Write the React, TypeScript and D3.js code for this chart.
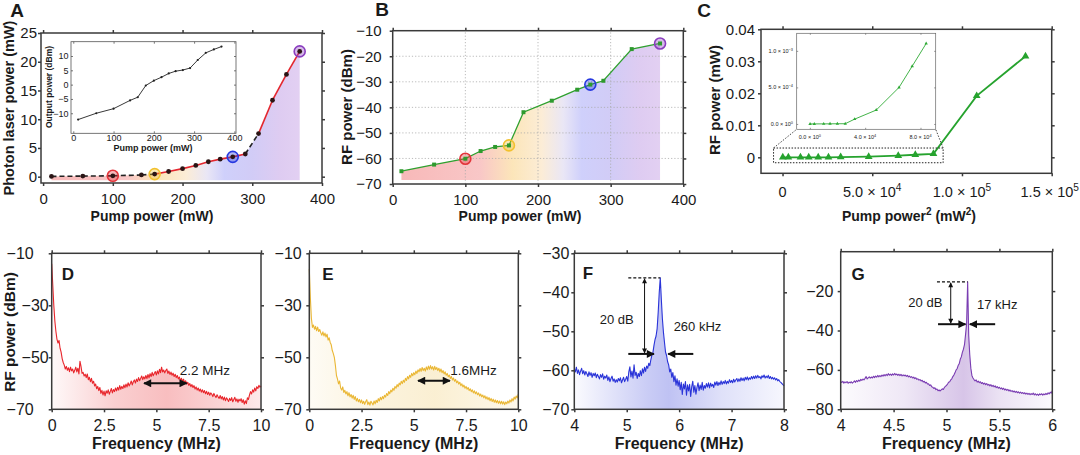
import { useEffect, useRef } from 'react';
import * as d3 from 'd3';

const FONT = "'Liberation Sans', Arial, Helvetica, sans-serif";

// A: photon laser power and output power vs pump power
const pumpA = [12, 57, 100, 141, 160, 180, 200, 219, 237, 254, 272, 290, 309, 329, 349, 368];
const photonPowerA = [0.05, 0.1, 0.15, 0.3, 0.45, 0.9, 1.4, 1.95, 2.6, 3.05, 3.45, 3.95, 7.5, 13.3, 17.8, 21.8];
const outputPowerA = [-12.2, -10.0, -8.4, -5.5, -4.4, -0.3, 1.4, 2.6, 3.9, 4.7, 5.1, 5.8, 8.6, 11.1, 12.3, 13.3];
const dashedSegA = [0, 1, 2, 3, 11];
const stagesA = [2, 4, 10, 15];
const ticksAx = [0, 100, 200, 300, 400];
const ticksAy = [0, 5, 10, 15, 20, 25];
const ticksInsetAy = [-10, -5, 0, 5, 10];

// B: RF power vs pump power
const pumpB = [12, 57, 100, 121, 141, 160, 180, 219, 254, 272, 290, 329, 368];
const rfB = [-65.0, -62.4, -60.1, -57.1, -55.5, -54.9, -41.9, -37.4, -33.1, -31.1, -29.6, -17.2, -15.0];
const stagesB = [2, 5, 9, 12];
const ticksBy = [-70, -60, -50, -40, -30, -20, -10];

// C: RF power (mW) vs pump power squared
const pumpSqC = [150, 3250, 10000, 14600, 19900, 25600, 32400, 48000, 64500, 74000, 84100, 108200, 135400];
const rfC = [0.0000003, 0.0000006, 0.000001, 0.0000019, 0.0000028, 0.0000035, 0.000066, 0.00019, 0.0005, 0.00079, 0.0011, 0.0192, 0.0316];
const insetCountC = 11;
const ticksCx = [0, 50000, 100000, 150000];
const ticksCxLabels = [['0', ''], ['5.0 × 10', '4'], ['1.0 × 10', '5'], ['1.5 × 10', '5']];
const ticksCy = [0, 0.01, 0.02, 0.03, 0.04];
const ticksInsetCx = [0, 40000, 80000];
const ticksInsetCxLabels = [['0.0 × 10', '0'], ['4.0 × 10', '4'], ['8.0 × 10', '4']];
const ticksInsetCy = [0, 0.0005, 0.001];
const ticksInsetCyLabels = [['0.0 × 10', '0'], ['5.0 × 10', '−4'], ['1.0 × 10', '−3']];

const stageColors = ['#e3343a', '#f2c12e', '#2638e0', '#8a3dbf'];

// D-G: RF spectra (uniform frequency bins)
const dStart = 0, dStep = 0.05;
const dPower = [
  -14, -22, -30, -36, -40, -43, -44.5, -43.5, -46.5, -48,
  -50.5, -52, -53, -54.5, -53.5, -55, -54, -55.5, -53.8, -55.2,
  -54.5, -56, -55, -53.8, -55.6, -54.2, -56.4, -51.5, -53.5, -56.2,
  -55.8, -57.2, -56.5, -57.8, -56.4, -58.6, -57.7, -59.4, -58.1, -60,
  -59.2, -61, -60.3, -62.1, -61.2, -62.8, -61.6, -63.9, -62.7, -64.5,
  -63, -64.8, -62.9, -63.8, -62.5, -64.2, -63.1, -62, -63.7, -62.4,
  -63.2, -61.8, -62.9, -61.5, -62.6, -60.9, -62.3, -61.2, -62, -60.6,
  -61.7, -60.3, -61.4, -59.8, -61, -60.2, -59.1, -60.6, -59.4, -58.7,
  -59.9, -58.4, -59.3, -57.8, -59, -58.1, -57.2, -58.6, -57.5, -58.3,
  -57, -58.2, -56.6, -57.9, -56.3, -57.4, -55.8, -57.1, -56.2, -55.5,
  -56.8, -55.2, -56.4, -54.6, -55.9, -53.8, -55.6, -54.9, -56, -55.1,
  -54.5, -56.2, -55.3, -56.6, -55.7, -56.9, -56.1, -57.4, -56.5, -57.8,
  -57, -58.3, -57.6, -58.9, -58.1, -59.2, -58.4, -59.8, -59, -60.3,
  -59.6, -60.8, -60.1, -61.3, -60.5, -61.6, -60.9, -62.2, -61.4, -62.6,
  -61.8, -63, -62.2, -63.4, -62.5, -63.6, -62.8, -64, -63.1, -64.3,
  -63.4, -64.6, -63.7, -64.2, -65.1, -63.9, -64.8, -65.5, -64.4, -65.2,
  -65.8, -64.7, -66, -65.1, -66.4, -65.3, -66.7, -65.6, -66.2, -67,
  -65.8, -66.6, -65.5, -67.1, -66.2, -65.4, -66.9, -66, -67.3, -66.1,
  -66.8, -65.9, -67.4, -66.3, -68, -66.7, -67.8, -65.6, -66.2, -64.5,
  -63.2, -64.1, -62.5, -63.4, -61.8, -62.9, -61.3, -62, -60.8, -61.5,
  -61,
];
const eStart = 0, eStep = 0.05;
const ePower = [
  -16, -27, -35, -38.5, -37.6, -39.2, -38.1, -39.8, -38.4, -40.1,
  -39.3, -40.6, -41.5, -40.2, -41.8, -40.7, -42.2, -41.1, -43.4, -42.5,
  -44.3, -45.2, -47.4, -48.6, -50.1, -53.2, -57, -58.4, -60.2, -59.1,
  -61.8, -62.6, -61.4, -63.5, -62.7, -64.1, -63.2, -64.8, -63.6, -65.2,
  -64.3, -65.7, -64.6, -66.2, -65.1, -66.8, -65.8, -67.1, -66.2, -67.5,
  -66.4, -67.8, -66.9, -68.1, -67, -66.3, -68.2, -67.2, -68.4, -66.9,
  -67.6, -68.3, -66.8, -67.9, -66.5, -67.4, -65.9, -66.8, -65.4, -66.3,
  -65.1, -65.9, -64.6, -65.3, -63.9, -64.7, -63.2, -64, -62.6, -63.3,
  -61.9, -62.7, -61.2, -61.9, -60.5, -61.3, -59.9, -60.6, -59.2, -60.1,
  -58.8, -59.6, -58.1, -58.9, -57.4, -58.3, -56.9, -57.7, -56.2, -57.1,
  -55.9, -56.7, -55.3, -56.2, -54.8, -55.6, -54.3, -55.4, -53.9, -55.1,
  -54.2, -55.3, -53.7, -54.8, -53.4, -54.6, -53.2, -54.5, -53.6, -54.9,
  -53.5, -54.7, -53.9, -55.1, -54.2, -55.6, -54.5, -55.9, -55.1, -56.4,
  -55.6, -56.9, -56.2, -57.5, -56.8, -58.1, -57.4, -58.7, -58, -59.2,
  -58.5, -59.8, -59.1, -60.3, -59.6, -60.9, -60.2, -61.4, -60.7, -61.9,
  -61.2, -62.3, -61.6, -62.8, -62.1, -63.2, -62.5, -63.7, -62.9, -64,
  -63.3, -64.4, -63.7, -64.9, -64.1, -65.2, -64.5, -65.6, -64.8, -66,
  -65.2, -66.3, -65.5, -66.7, -65.8, -67, -66.1, -67.3, -66.4, -67.5,
  -66.6, -67.7, -66.8, -67.9, -66.9, -68, -67.1, -68.2, -67.2, -67.9,
  -66.8, -67.6, -66.4, -67.2, -65.9, -66.8, -65.3, -66.1, -64.9, -65.6,
  -64.2,
];
const fStart = 4, fStep = 0.02;
const fPower = [
  -59.6, -60.4, -59.2, -60.8, -59.9, -61.1, -60.2, -59.5, -60.9, -60.1,
  -61.2, -60.3, -60.9, -61.6, -60.4, -61.3, -60.6, -61.8, -60.8, -61.4,
  -60.7, -61.9, -61, -61.6, -62.2, -61.1, -61.8, -60.9, -62.3, -61.5,
  -62, -61.2, -62.6, -61.7, -62.9, -62.1, -61.5, -62.8, -62.2, -63.1,
  -62.4, -63, -62.1, -62.7, -61.9, -63.2, -62.5, -61.8, -62.9, -62.3,
  -61.6, -62.8, -60.4, -59.1, -61.7, -60.2, -62, -58.6, -61.3, -60.5,
  -62.1, -60.8, -61.6, -60.1, -61.4, -59.6, -60.7, -59.2, -60.3, -58.9,
  -59.5, -58.2, -58.8, -57.3, -56.1, -55.4, -53.6, -52.1, -51.2, -49.3,
  -45.2, -40.1, -36.3, -41.8, -46.7, -50.2, -52.8, -55.3, -56.2, -57.8,
  -58.6, -60.4, -59.7, -61.8, -60.6, -62.9, -61.4, -63.8, -62.2, -64.1,
  -62.6, -65, -63.1, -66.2, -63.5, -64.8, -62.9, -66.4, -63.7, -65.3,
  -63.6, -66.7, -64.2, -62.8, -65.6, -63.9, -66.1, -64.4, -63.2, -65.2,
  -63.8, -64.9, -63.1, -65.1, -63.9, -64.6, -63.4, -64.3, -63.2, -64.5,
  -63.3, -64.1, -63.6, -64.4, -63, -63.8, -62.9, -63.9, -63.1, -63.7,
  -62.7, -63.6, -62.9, -63.4, -62.6, -63.5, -62.8, -63.3, -62.4, -63.1,
  -62.6, -63.2, -62.3, -63, -62.5, -62.1, -62.9, -62.2, -62.8, -61.9,
  -62.6, -62, -62.7, -61.8, -62.4, -61.7, -62.5, -61.9, -62.3, -61.6,
  -62.2, -61.5, -62.1, -61.4, -62, -61.3, -61.9, -61.6, -62.2, -61.4,
  -61.8, -61.2, -62, -61.5, -61.9, -61.3, -62.1, -61.6, -62.2, -61.8,
  -62.3, -61.9, -62.5, -62.1, -62.7, -62.4, -62.9, -63.1, -63.4, -63.7,
  -64,
];
const gStart = 4, gStep = 0.01;
const gPower = [
  -66, -66.4, -65.8, -66.7, -66.1, -66.5, -65.9, -66.8, -66.2, -66.6,
  -66, -66.7, -66.2, -65.6, -66.3, -65.4, -66, -65.2, -65.7, -64.8,
  -65.3, -64.6, -65.1, -64.3, -63.4, -64.6, -64, -63.5, -64.2, -63.6,
  -64.1, -63.2, -63.9, -63.1, -63.7, -62.8, -63.5, -62.9, -63.4, -62.6,
  -63.2, -62.4, -63, -62.2, -62.9, -61.9, -62.7, -62.1, -62.8, -62,
  -62.6, -61.8, -62.5, -62.1, -62.8, -62.2, -62.9, -62.3, -63.1, -62.5,
  -63, -62.6, -63.3, -62.8, -63.5, -63.1, -63.8, -63.4, -64.1, -63.7,
  -64.4, -64, -64.8, -64.5, -65.2, -64.9, -65.6, -65.3, -66.1, -65.8,
  -66.6, -66.3, -67.2, -67, -67.9, -67.6, -68.5, -68.8, -69.4, -69.1,
  -70, -69.7, -70.6, -70.2, -70.7, -70.1, -69.6, -69.9, -68.9, -68.4,
  -67.8, -67.2, -66.3, -66, -65.1, -64.5, -63.4, -62.6, -61.5, -60.1,
  -59.4, -57.8, -56.9, -54.6, -53.4, -51.1, -49.5, -47.2, -42.1, -36.5,
  -15.3, -42.6, -52.4, -59.1, -62.8, -64.1, -64.9, -65.6, -65.1, -66.2,
  -65.7, -66.5, -66, -66.9, -66.4, -67.2, -66.7, -67.5, -66.9, -67.8,
  -67.3, -68.1, -67.5, -68.4, -67.8, -68.6, -68.1, -69, -68.5, -69.3,
  -68.8, -69.6, -69.1, -69.9, -69.3, -70.2, -69.7, -70.4, -69.9, -70.7,
  -70.2, -70.9, -70.5, -71.2, -70.7, -71.4, -70.9, -71.6, -71.1, -71.8,
  -71.3, -71.9, -71.5, -72.1, -71.6, -72.3, -71.8, -72.4, -71.9, -72.6,
  -72, -72.5, -71.8, -72.7, -72.1, -72.8, -72.3, -72.9, -72.2, -72.6,
  -72.1, -72.8, -72.2, -72.6, -71.9, -72.5, -71.6, -72.2, -71.3, -71.8,
  -70.6,
];

const num = d3.format('');

function axes(g: any, x: any, y: any, c: any) {
  const [x0, x1] = x.range();
  const [y0, y1] = y.range();
  const t = c.tick ?? 3;
  const col = c.color ?? '#3a3a3a';
  const sw = c.sw ?? 1.5;
  const style = (a: any) => {
    a.attr('font-family', null).attr('font-size', null);
    a.select('.domain').remove();
    a.selectAll('line').attr('stroke', col).attr('stroke-width', sw);
    a.selectAll('text').attr('font-size', c.fs).attr('font-family', FONT).attr('fill', '#1a1a1a');
  };
  const xf = c.xFmt ?? ((d: number) => num(d));
  const yf = c.yFmt ?? ((d: number) => num(d));
  g.append('g').attr('transform', `translate(0,${y0})`)
    .call(d3.axisBottom(x).tickValues(c.xTicks).tickSize(t).tickPadding(c.xPad).tickFormat(xf)).call(style);
  g.append('g').attr('transform', `translate(${x0},0)`)
    .call(d3.axisLeft(y).tickValues(c.yTicks).tickSize(t).tickPadding(c.yPad).tickFormat(yf)).call(style);
  g.append('g').attr('transform', `translate(0,${y1})`)
    .call(d3.axisTop(x).tickValues(c.xTicks).tickSize(t).tickFormat(() => '')).call(style);
  g.append('g').attr('transform', `translate(${x1},0)`)
    .call(d3.axisRight(y).tickValues(c.yTicks).tickSize(t).tickFormat(() => '')).call(style);
  g.append('rect').attr('x', x0).attr('y', y1).attr('width', x1 - x0).attr('height', y0 - y1)
    .attr('fill', 'none').attr('stroke', col).attr('stroke-width', sw);
}

function supText(g: any, x: number, y: number, base: string, sup: string, fs: number, anchor: string) {
  const t = g.append('text').attr('x', x).attr('y', y).attr('font-size', fs).attr('font-family', FONT)
    .attr('fill', '#1a1a1a').attr('text-anchor', anchor);
  t.append('tspan').text(base);
  if (sup) t.append('tspan').attr('dy', -fs * 0.42).attr('font-size', fs * 0.7).text(sup);
  return t;
}

function label(g: any, text: string, x: number, y: number, fs: number, opts: any = {}) {
  const t = g.append('text').attr('font-family', FONT).attr('font-size', fs)
    .attr('font-weight', opts.weight ?? 'bold').attr('fill', '#1a1a1a')
    .attr('text-anchor', opts.anchor ?? 'middle').text(text);
  if (opts.rotate) t.attr('transform', `translate(${x},${y}) rotate(-90)`);
  else t.attr('x', x).attr('y', y);
  return t;
}

function arrow(g: any, x1: number, y1: number, x2: number, y2: number, w: number, marker: string, both: boolean) {
  const l = g.append('line').attr('x1', x1).attr('y1', y1).attr('x2', x2).attr('y2', y2)
    .attr('stroke', '#111').attr('stroke-width', w).attr('marker-end', `url(#${marker})`);
  if (both) l.attr('marker-start', `url(#${marker})`);
}

export default function App() {
  const ref = useRef<SVGSVGElement>(null);

  useEffect(() => {
    if (!ref.current) return;
    const svg = d3.select(ref.current);
    svg.selectAll('*').remove();
    const defs = svg.append('defs');

    const mk = (id: string, w: number, h: number) => defs.append('marker').attr('id', id)
      .attr('viewBox', '0 0 10 10').attr('refX', 9).attr('refY', 5)
      .attr('markerWidth', w).attr('markerHeight', h).attr('markerUnits', 'userSpaceOnUse')
      .attr('orient', 'auto-start-reverse')
      .append('path').attr('d', 'M0,0L10,5L0,10z').attr('fill', '#111');
    mk('ah', 9, 8);
    mk('ahs', 6, 5);

    // pump-stage gradient used under A and B
    const stageStops = [
      [12, '#f6a7a7'], [120, '#f7b9b9'], [165, '#fbdfa8'], [205, '#fbe8cc'],
      [235, '#e4e0f3'], [260, '#c3c4fa'], [300, '#c6bff4'], [340, '#d6bfee'], [368, '#dbc4ef'],
    ] as [number, string][];
    const stageGrad = (id: string, x: any) => {
      const gr = defs.append('linearGradient').attr('id', id).attr('gradientUnits', 'userSpaceOnUse')
        .attr('x1', x(12)).attr('x2', x(368)).attr('y1', 0).attr('y2', 0);
      stageStops.forEach(([p, c]) => gr.append('stop').attr('offset', (p - 12) / 356).attr('stop-color', c));
    };

    const ring = (g: any, cx: number, cy: number, color: string) => {
      g.append('circle').attr('cx', cx).attr('cy', cy).attr('r', 5.5)
        .attr('fill', color).attr('fill-opacity', 0.35).attr('stroke', color).attr('stroke-width', 1.6);
    };

    // ---------------- A ----------------
    {
      const g = svg.append('g');
      const x = d3.scaleLinear([-3, 400], [41, 322]);
      const y = d3.scaleLinear([-1.1, 25], [183, 33]);
      stageGrad('gradA', x);
      const idx = d3.range(pumpA.length);
      g.append('path').attr('fill', 'url(#gradA)').attr('opacity', 0.8)
        .attr('d', d3.area<number>().x((i) => x(pumpA[i])).y0(y(-0.6)).y1((i) => y(photonPowerA[i]))(idx));
      idx.slice(0, -1).forEach((i) => {
        const dashed = dashedSegA.includes(i);
        g.append('line').attr('x1', x(pumpA[i])).attr('y1', y(photonPowerA[i]))
          .attr('x2', x(pumpA[i + 1])).attr('y2', y(photonPowerA[i + 1]))
          .attr('stroke', dashed ? '#222' : '#e3262e').attr('stroke-width', 1.6)
          .attr('stroke-dasharray', dashed ? '5,3' : null);
      });
      stagesA.forEach((i, k) => ring(g, x(pumpA[i]), y(photonPowerA[i]), stageColors[k]));
      g.selectAll('.dotA').data(idx).join('circle').attr('cx', (i) => x(pumpA[i])).attr('cy', (i) => y(photonPowerA[i]))
        .attr('r', 2.4).attr('fill', '#2a1414');
      axes(g, x, y, { xTicks: ticksAx, yTicks: ticksAy, fs: 15, xPad: 7, yPad: 1 });
      label(g, 'Pump power (mW)', 152, 221, 14);
      label(g, 'Photon laser power (mW)', 14, 108, 14.5, { rotate: true });
      label(g, 'A', 17, 17, 19);

      // inset: output power
      const xi = d3.scaleLinear([-5.7, 404], [71, 236]);
      const yi = d3.scaleLinear([-17, 15], [133.3, 41.7]);
      g.append('rect').attr('x', 71).attr('y', 41.7).attr('width', 165).attr('height', 91.6).attr('fill', '#fff');
      g.append('path').attr('fill', 'none').attr('stroke', '#222').attr('stroke-width', 0.9)
        .attr('d', d3.line<number>().x((i) => xi(pumpA[i])).y((i) => yi(outputPowerA[i]))(idx));
      g.selectAll('.dotI').data(idx).join('circle').attr('cx', (i) => xi(pumpA[i])).attr('cy', (i) => yi(outputPowerA[i]))
        .attr('r', 1.1).attr('fill', '#222');
      axes(g, xi, yi, { xTicks: ticksAx, yTicks: ticksInsetAy, fs: 9, xPad: 1, yPad: 2.5, tick: -2, sw: 0.8, color: '#555' });
      label(g, 'Pump power (mW)', 153, 151, 9);
      label(g, 'Output power (dBm)', 52, 87, 8.5, { rotate: true });
    }

    // ---------------- B ----------------
    {
      const g = svg.append('g');
      const x = d3.scaleLinear([0, 400], [392.7, 683.3]);
      const y = d3.scaleLinear([-70, -10], [184, 30.7]);
      stageGrad('gradB', x);
      const idx = d3.range(pumpB.length);
      g.append('path').attr('fill', 'url(#gradB)').attr('opacity', 0.8)
        .attr('d', d3.area<number>().x((i) => x(pumpB[i])).y0(y(-68.4)).y1((i) => y(rfB[i]))(idx));
      const grid = g.append('g').attr('stroke', '#aaa').attr('stroke-width', 0.8).attr('stroke-dasharray', '1.2,2');
      ticksAx.slice(1, -1).forEach((v) => grid.append('line').attr('x1', x(v)).attr('x2', x(v)).attr('y1', y(-70)).attr('y2', y(-10)));
      ticksBy.slice(1, -1).forEach((v) => grid.append('line').attr('y1', y(v)).attr('y2', y(v)).attr('x1', x(0)).attr('x2', x(400)));
      g.append('path').attr('fill', 'none').attr('stroke', '#2ea02e').attr('stroke-width', 1.3)
        .attr('d', d3.line<number>().x((i) => x(pumpB[i])).y((i) => y(rfB[i]))(idx));
      stagesB.forEach((i, k) => ring(g, x(pumpB[i]), y(rfB[i]), stageColors[k]));
      g.selectAll('.sqB').data(idx).join('path')
        .attr('transform', (i) => `translate(${x(pumpB[i])},${y(rfB[i])})`)
        .attr('d', d3.symbol(d3.symbolSquare, 16)()).attr('fill', '#2e9a2e');
      axes(g, x, y, { xTicks: ticksAx, yTicks: ticksBy, fs: 15, xPad: 7, yPad: 8 });
      label(g, 'Pump power (mW)', 520, 221, 14);
      label(g, 'RF power (dBm)', 352, 107, 15, { rotate: true });
      label(g, 'B', 382, 16, 19);
    }

    // ---------------- C ----------------
    {
      const g = svg.append('g');
      const x = d3.scaleLinear([-12000, 150000], [761, 1051.7]);
      const y = d3.scaleLinear([-0.005, 0.04], [173.3, 29.3]);
      const idx = d3.range(pumpSqC.length);
      g.append('path').attr('fill', 'none').attr('stroke', '#26a32e').attr('stroke-width', 1.8)
        .attr('d', d3.line<number>().x((i) => x(pumpSqC[i])).y((i) => y(rfC[i]))(idx));
      g.selectAll('.trC').data(idx).join('path')
        .attr('transform', (i) => `translate(${x(pumpSqC[i])},${y(rfC[i])})`)
        .attr('d', d3.symbol(d3.symbolTriangle, 26)()).attr('fill', '#26a32e');
      axes(g, x, y, {
        xTicks: ticksCx, yTicks: ticksCy, fs: 15, xPad: 10, yPad: 3,
        xFmt: () => '', yFmt: (d: number) => (d === 0 ? '0' : d.toFixed(2)),
      });
      ticksCx.forEach((v, k) => {
        const last = k === ticksCx.length - 1;
        supText(g, last ? 1079 : x(v), 197, ticksCxLabels[k][0], ticksCxLabels[k][1], 14.5, last ? 'end' : 'middle');
      });
      const xl = g.append('text').attr('x', 909).attr('y', 221).attr('font-family', FONT).attr('font-size', 14)
        .attr('font-weight', 'bold').attr('fill', '#1a1a1a').attr('text-anchor', 'middle');
      xl.append('tspan').text('Pump power');
      xl.append('tspan').attr('dy', -6).attr('font-size', 10).text('2');
      xl.append('tspan').attr('dy', 6).text(' (mW');
      xl.append('tspan').attr('dy', -6).attr('font-size', 10).text('2');
      xl.append('tspan').attr('dy', 6).text(')');
      label(g, 'RF power (mW)', 720, 100, 15, { rotate: true });
      label(g, 'C', 704, 17, 19);

      // zoom box + connectors
      const bx0 = x(-5000), bx1 = x(89500), by0 = y(0.0029), by1 = y(-0.0017);
      g.append('rect').attr('x', bx0).attr('y', by0).attr('width', bx1 - bx0).attr('height', by1 - by0)
        .attr('fill', 'none').attr('stroke', '#222').attr('stroke-width', 1).attr('stroke-dasharray', '1.5,1.5');
      const xi = d3.scaleLinear([-9500, 91000], [796.7, 935.7]);
      const yi = d3.scaleLinear([-0.000073, 0.00124], [129.3, 33.3]);
      [[bx0, 796.7], [bx1, 935.7]].forEach(([a, b]) => g.append('line').attr('x1', a).attr('y1', by0)
        .attr('x2', b).attr('y2', 129.3).attr('stroke', '#333').attr('stroke-width', 0.9).attr('stroke-dasharray', '1.5,1.5'));
      g.append('rect').attr('x', 796.7).attr('y', 33.3).attr('width', 139).attr('height', 96).attr('fill', '#fff');
      const ii = d3.range(insetCountC);
      g.append('path').attr('fill', 'none').attr('stroke', '#2faa36').attr('stroke-width', 0.9)
        .attr('d', d3.line<number>().x((i) => xi(pumpSqC[i])).y((i) => yi(rfC[i]))(ii));
      g.selectAll('.trCi').data(ii).join('path')
        .attr('transform', (i) => `translate(${xi(pumpSqC[i])},${yi(rfC[i])})`)
        .attr('d', d3.symbol(d3.symbolTriangle, 5)()).attr('fill', '#2faa36');
      axes(g, xi, yi, {
        xTicks: ticksInsetCx, yTicks: ticksInsetCy, fs: 5.5, xPad: 2, yPad: 3, tick: -1.5, sw: 0.7, color: '#666',
        xFmt: () => '', yFmt: () => '',
      });
      ticksInsetCx.forEach((v, k) => supText(g, xi(v), 139, ticksInsetCxLabels[k][0], ticksInsetCxLabels[k][1], 5.5, 'middle'));
      ticksInsetCy.forEach((v, k) => supText(g, 793, yi(v) + 2, ticksInsetCyLabels[k][0], ticksInsetCyLabels[k][1], 5.5, 'end'));
    }

    // ---------------- D - G ----------------
    const spectra = [
      { id: 'D', start: dStart, step: dStep, power: dPower, color: '#e8262c', xr: [51.7, 261], yr: [409.3, 253.3],
        xd: [0, 10], yd: [-70, -10], xt: [0, 2.5, 5, 7.5, 10], yt: [-70, -50, -30, -10], yGap: [18, 3, 3, 18],
        stops: [[0, 0.03], [0.3, 0.22], [0.55, 0.3], [0.8, 0.2], [1, 0.1]], lx: 68, ly: 280 },
      { id: 'E', start: eStart, step: eStep, power: ePower, color: '#eab735', xr: [309.3, 518.3], yr: [409.3, 253.3],
        xd: [0, 10], yd: [-70, -10], xt: [0, 2.5, 5, 7.5, 10], yt: [-70, -50, -30, -10], yGap: [7.6, 7.6, 7.6, 7.6],
        stops: [[0, 0.05], [0.3, 0.16], [0.6, 0.22], [1, 0.1]], lx: 328, ly: 280 },
      { id: 'F', start: fStart, step: fStep, power: fPower, color: '#2a34d8', xr: [574.3, 784], yr: [409.3, 253.3],
        xd: [4, 8], yd: [-70, -30], xt: [4, 5, 6, 7, 8], yt: [-70, -60, -50, -40, -30], yGap: [5, 5, 5, 5, 5],
        stops: [[0, 0.02], [0.35, 0.25], [0.45, 0.3], [0.7, 0.15], [1, 0.04]], lx: 588, ly: 279 },
      { id: 'G', start: gStart, step: gStep, power: gPower, color: '#7a3db2', xr: [840.7, 1052.3], yr: [409.3, 251.7],
        xd: [4, 6], yd: [-80, 0], xt: [4, 4.5, 5, 5.5, 6], yt: [-80, -60, -40, -20], yGap: [7.4, 7.4, 7.4, 7.4],
        stops: [[0, 0.02], [0.3, 0.12], [0.58, 0.3], [0.75, 0.15], [1, 0.03]], lx: 858, ly: 280 },
    ];
    const sp: Record<string, any> = {};
    spectra.forEach((s) => {
      const g = svg.append('g');
      const x = d3.scaleLinear(s.xd, s.xr);
      const y = d3.scaleLinear(s.yd, s.yr);
      sp[s.id] = { g, x, y };
      const gr = defs.append('linearGradient').attr('id', `grad${s.id}`).attr('x1', 0).attr('x2', 1).attr('y1', 0).attr('y2', 0);
      s.stops.forEach(([o, a]) => gr.append('stop').attr('offset', o).attr('stop-color', s.color).attr('stop-opacity', a));
      const fx = (i: number) => x(s.start + i * s.step);
      const idx = d3.range(s.power.length);
      g.append('path').attr('fill', `url(#grad${s.id})`)
        .attr('d', d3.area<number>().x(fx).y0(s.yr[0]).y1((i) => y(s.power[i]))(idx));
      g.append('path').attr('fill', 'none').attr('stroke', s.color).attr('stroke-width', 1.1).attr('stroke-linejoin', 'round')
        .attr('d', d3.line<number>().x(fx).y((i) => y(s.power[i]))(idx));
      axes(g, x, y, { xTicks: s.xt, yTicks: s.yt, fs: 16, xPad: 7, yPad: 0, yFmt: () => '' });
      s.yt.forEach((v, k) => g.append('text').attr('x', s.xr[0] - s.yGap[k]).attr('y', y(v)).attr('dy', '0.34em')
        .attr('text-anchor', 'end').attr('font-family', FONT).attr('font-size', 16).attr('fill', '#1a1a1a').text(num(v)));
      label(g, 'Frequency (MHz)', (s.xr[0] + s.xr[1]) / 2, 448.5, 16);
      label(g, s.id, s.lx, s.ly, 17);
    });
    label(svg, 'RF power (dBm)', 15, 332, 15.5, { rotate: true });

    // annotations
    {
      const { g, x, y } = sp.D;
      arrow(g, x(4.41), y(-60), x(6.45), y(-60), 2, 'ah', true);
      label(g, '2.2 MHz', x(7.32), y(-55) + 4.5, 13.5, { weight: 'normal' });
    }
    {
      const { g, x, y } = sp.E;
      arrow(g, x(5.2), y(-59), x(6.73), y(-59), 2, 'ah', true);
      label(g, '1.6MHz', x(7.86), y(-55) + 4.5, 13.5, { weight: 'normal' });
    }
    {
      const { g, x, y } = sp.F;
      g.append('line').attr('x1', x(5.03)).attr('x2', x(5.64)).attr('y1', y(-36.3)).attr('y2', y(-36.3))
        .attr('stroke', '#111').attr('stroke-width', 1.2).attr('stroke-dasharray', '3,2');
      arrow(g, x(5.34), y(-36.3) + 1, x(5.34), y(-55.8) - 1, 1, 'ahs', true);
      arrow(g, x(5.03), y(-55.8), x(5.52), y(-55.8), 2, 'ah', false);
      arrow(g, x(6.27), y(-55.8), x(5.79), y(-55.8), 2, 'ah', false);
      label(g, '20 dB', x(4.81), y(-46.9) + 4.5, 13, { weight: 'normal' });
      label(g, '260 kHz', x(6.35), y(-48.8) + 4.5, 13, { weight: 'normal' });
    }
    {
      const { g, x, y } = sp.G;
      g.append('line').attr('x1', x(4.91)).attr('x2', x(5.2)).attr('y1', y(-15.3)).attr('y2', y(-15.3))
        .attr('stroke', '#111').attr('stroke-width', 1.2).attr('stroke-dasharray', '3,2');
      arrow(g, x(5.04), y(-15.3) + 1, x(5.04), y(-36.8) - 1, 1, 'ahs', true);
      arrow(g, x(4.92), y(-36.8), x(5.18), y(-36.8), 2, 'ah', false);
      arrow(g, x(5.46), y(-36.8), x(5.22), y(-36.8), 2, 'ah', false);
      label(g, '20 dB', x(4.8), y(-26) + 4.5, 13, { weight: 'normal' });
      label(g, '17 kHz', x(5.48), y(-27) + 4.5, 13, { weight: 'normal' });
    }
  }, []);

  return (
    <svg
      ref={ref}
      width={1080}
      height={455}
      style={{ position: 'absolute', left: 0, top: 0, background: '#fff', display: 'block' }}
    />
  );
}
